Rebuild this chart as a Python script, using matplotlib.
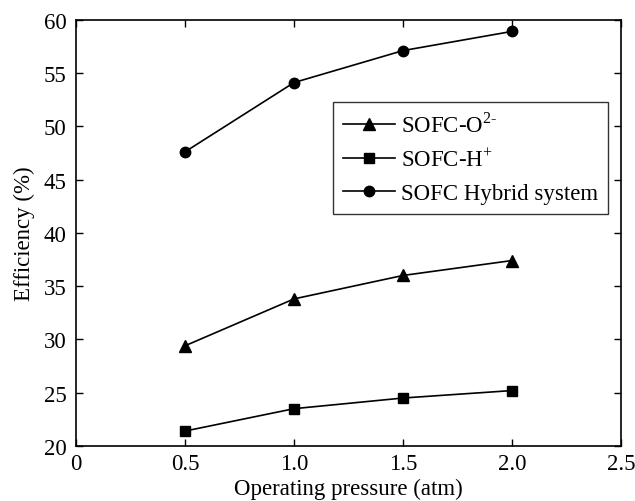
import matplotlib
matplotlib.use("Agg")
import matplotlib.pyplot as plt
from matplotlib.ticker import FixedLocator, FixedFormatter

plt.rcParams['font.family'] = ['Liberation Serif', 'DejaVu Serif']
plt.rcParams['mathtext.fontset'] = 'custom'
plt.rcParams['mathtext.rm'] = 'Liberation Serif'

pressure = [0.5, 1.0, 1.5, 2.0]
sofc_o2 = [29.4, 33.8, 36.0, 37.4]
sofc_h = [21.4, 23.5, 24.5, 25.2]
sofc_hybrid = [47.6, 54.1, 57.1, 58.9]

x_ticks = [0, 0.5, 1.0, 1.5, 2.0, 2.5]
x_tick_labels = ['0', '0.5', '1.0', '1.5', '2.0', '2.5']
y_ticks = [20, 25, 30, 35, 40, 45, 50, 55, 60]

FS = 16.5

fig = plt.figure(figsize=(6.35, 5.02), dpi=100)
ax = fig.add_axes([0.1197, 0.1096, 0.8583, 0.8492])

ax.plot(pressure, sofc_o2, color='black', lw=1.2, marker='^', ms=9,
        label=r'SOFC-O$^{\mathrm{2\text{-}}}$')
ax.plot(pressure, sofc_h, color='black', lw=1.2, marker='s', ms=7,
        label=r'SOFC-H$^{+}$')
ax.plot(pressure, sofc_hybrid, color='black', lw=1.2, marker='o', ms=7.5,
        label='SOFC Hybrid system')

ax.set_xlim(0, 2.5)
ax.set_ylim(20, 60)
ax.xaxis.set_major_locator(FixedLocator(x_ticks))
ax.xaxis.set_major_formatter(FixedFormatter(x_tick_labels))
ax.set_yticks(y_ticks)
ax.tick_params(direction='in', top=True, right=True, length=5, width=1,
               labelsize=FS)
ax.tick_params(axis='x', pad=5)
ax.tick_params(axis='y', pad=7)
for s in ax.spines.values():
    s.set_linewidth(1.2)

ax.set_xlabel('Operating pressure (atm)', fontsize=FS, labelpad=3)
ax.set_ylabel('Efficiency (%)', fontsize=FS, labelpad=6)

leg = ax.legend(loc='upper right', bbox_to_anchor=(0.976, 0.807), fontsize=FS,
                frameon=True, fancybox=False, edgecolor='black',
                handlelength=2.25, handletextpad=0.25, borderpad=0.45,
                labelspacing=0.5, borderaxespad=0)
leg.get_frame().set_linewidth(1.0)

fig.savefig('out.png', dpi=100)
